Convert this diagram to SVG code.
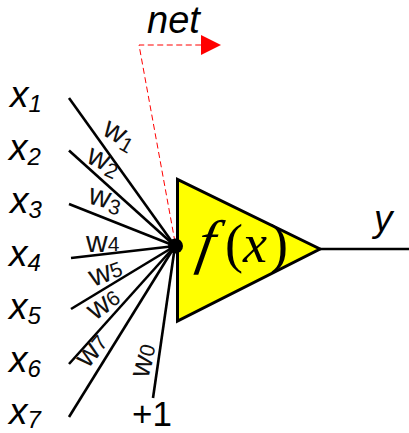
<svg xmlns="http://www.w3.org/2000/svg" width="409" height="433" viewBox="0 0 409 433">
<style>
.in{stroke:#000;stroke-width:2.6;fill:none}
.lab{font-family:"Liberation Sans",Arial,sans-serif;font-style:italic;font-size:37px;fill:#000}
.sub{font-size:24px}
.w{font-family:"Liberation Sans",Arial,sans-serif;font-size:30px;fill:#111}
.ws{font-size:21px}
.m{font-family:"Liberation Serif","Times New Roman",serif;font-style:italic;font-size:54px;fill:#000}
</style>
<rect width="409" height="433" fill="#fff"/>
<g id="neuron">
<polygon points="177.5,179.5 177.5,321 320,249" fill="#ff0" stroke="#000" stroke-width="3"/>
<text class="m" transform="translate(195,262) skewX(-10)" style="font-size:60px">f</text>
<text class="m" x="225" y="262" style="font-style:normal">(</text>
<text class="m" x="243" y="262">x</text>
<text class="m" x="270" y="262" style="font-style:normal">)</text>
</g>
<g id="connectors">
<line class="in" x1="69" y1="98" x2="175" y2="246"/>
<line class="in" x1="69" y1="150.500" x2="175" y2="246"/>
<line class="in" x1="69" y1="204" x2="175" y2="246"/>
<line class="in" x1="71" y1="258" x2="175" y2="246"/>
<line class="in" x1="71" y1="309" x2="175" y2="246"/>
<line class="in" x1="69" y1="364" x2="175" y2="246"/>
<line class="in" x1="69" y1="417" x2="175" y2="246"/>
<line class="in" x1="153" y1="398" x2="175" y2="246"/>
<line class="in" x1="320" y1="249" x2="409" y2="249"/>
<polyline points="175,242 139,45 201,45" fill="none" stroke="#f00" stroke-width="1" stroke-dasharray="6 3.500"/>
<polygon points="201,35 221,45 201,55" fill="#f00"/>
</g>
<g id="dot"><circle cx="175.500" cy="246" r="7.500" fill="#000"/></g>
<g id="inputs">
<text class="lab" x="10" y="107">x<tspan class="sub" dy="5">1</tspan></text>
<text class="lab" x="9" y="160">x<tspan class="sub" dy="5">2</tspan></text>
<text class="lab" x="10" y="213">x<tspan class="sub" dy="5">3</tspan></text>
<text class="lab" x="9" y="266">x<tspan class="sub" dy="5">4</tspan></text>
<text class="lab" x="9" y="319">x<tspan class="sub" dy="5">5</tspan></text>
<text class="lab" x="9" y="372">x<tspan class="sub" dy="5">6</tspan></text>
<text class="lab" x="9" y="424">x<tspan class="sub" dy="4">7</tspan></text>
</g>
<g id="weights">
<text class="w" transform="translate(101,134) rotate(30)">w<tspan class="ws" dy="4">1</tspan></text>
<text class="w" transform="translate(85,162) rotate(25)">w<tspan class="ws" dy="4">2</tspan></text>
<text class="w" transform="translate(87,203) rotate(15)">w<tspan class="ws" dy="4">3</tspan></text>
<text class="w" x="86" y="252">w<tspan class="ws" dy="-1">4</tspan></text>
<text class="w" transform="translate(93,287) rotate(-20)">w<tspan class="ws" dy="-1">5</tspan></text>
<text class="w" transform="translate(95,321) rotate(-35)">w<tspan class="ws" dy="-1">6</tspan></text>
<text class="w" transform="translate(88,369) rotate(-50)">w<tspan class="ws" dy="-1">7</tspan></text>
<text class="w" transform="translate(148,379) rotate(-75)">w<tspan class="ws" dy="-1">0</tspan></text>
</g>
<g id="bias"><text x="132" y="426" font-family="Liberation Sans,Arial,sans-serif" font-size="35" fill="#000">+1</text></g>
<g id="output"><text class="lab" x="374" y="231">y</text></g>
<g id="netlabel"><text class="lab" x="147" y="33" style="font-size:38px">net</text></g>
</svg>
